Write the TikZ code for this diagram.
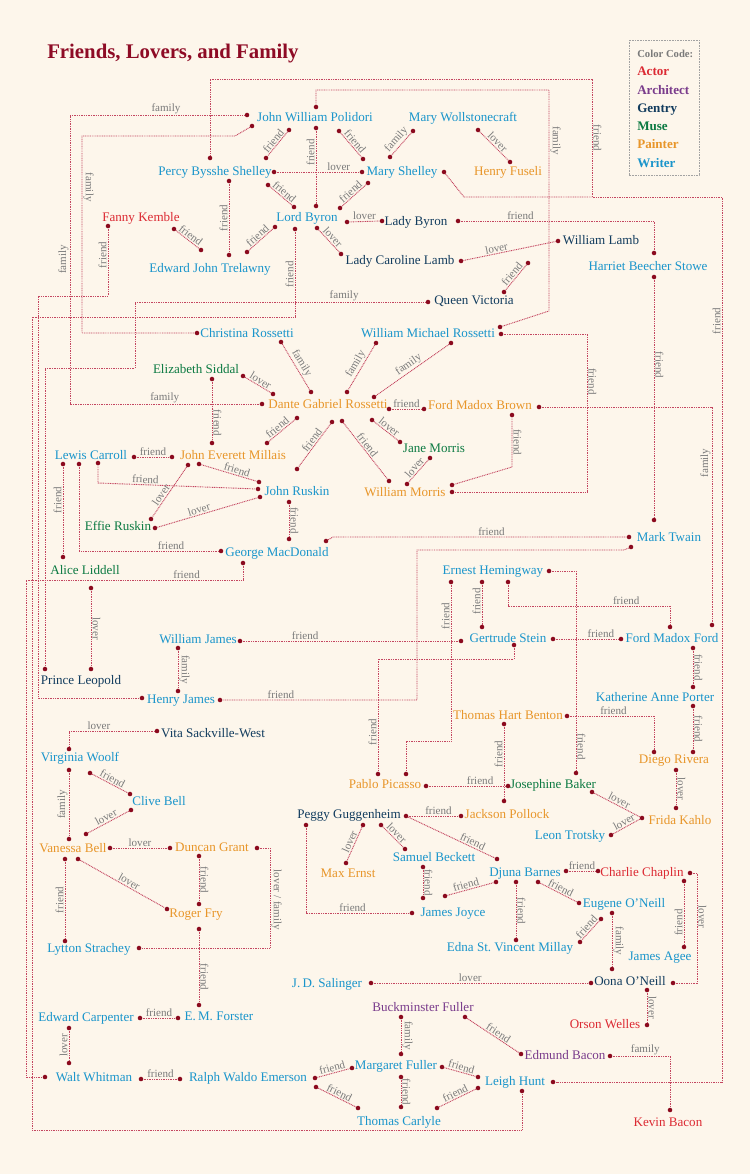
\documentclass[tikz,border=0pt]{standalone}
\usepackage{fontspec}
\setmainfont{Liberation Serif}

\definecolor{paper}{HTML}{FDF6EB}
\definecolor{titlered}{HTML}{8E0B25}
\definecolor{dotred}{HTML}{8B0A1E}
\definecolor{linkred}{HTML}{C44660}
\definecolor{lblgray}{HTML}{7A7A7A}
\definecolor{actorcol}{HTML}{DC2A33}
\definecolor{archcol}{HTML}{7A3C8C}
\definecolor{gentrycol}{HTML}{123C5E}
\definecolor{musecol}{HTML}{0C7A42}
\definecolor{paintercol}{HTML}{E8962A}
\definecolor{writercol}{HTML}{1A95CB}

\newcommand\namefont{\fontsize{9.8}{11}\selectfont}
\newcommand\lblfont{\fontsize{8.3}{9}\selectfont}
\newcommand\titlefont{\fontsize{15.6}{18}\selectfont\bfseries}

\tikzset{
	person/.style={anchor=base, inner sep=0pt, font=\namefont},
	actor/.style={person, text=actorcol},
	architect/.style={person, text=archcol},
	gentry/.style={person, text=gentrycol},
	muse/.style={person, text=musecol},
	painter/.style={person, text=paintercol},
	writer/.style={person, text=writercol},
	dot/.style={circle, fill=dotred, inner sep=0pt, minimum size=3.4pt},
	link/.style={draw=linkred, line width=0.7pt, dash pattern=on 0.7pt off 0.6pt},
	lbl/.style={font=\lblfont, text=lblgray, inner sep=0.8pt},
	hl/.style={lbl, above},
	sl/.style={lbl, sloped, above},
	vl/.style={lbl, rotate=90, above},
	vr/.style={lbl, rotate=-90, above},
	keytext/.style={anchor=base west, inner sep=0pt, font=\namefont\bfseries}
}

\begin{document}
\begin{tikzpicture}[x=0.75pt,y=-0.75pt]
	% Paper
	\useasboundingbox (0,0) rectangle (750,1174);
	\fill[paper] (0,0) rectangle (750,1174);
	
	% Title
	\node[anchor=base west, inner sep=0pt, font=\titlefont, text=titlered] (title) at (47,58) {Friends, Lovers, and Family};
	
	% Color code
	\draw[lblgray!70, line width=0.6pt, dash pattern=on 0.6pt off 0.6pt] (629,40) rectangle (699,175);
	\node[keytext, font=\fontsize{8}{9}\selectfont\bfseries, text=lblgray] (keyhead) at (637,57) {Color Code:};
	\node[keytext, text=actorcol] (keyactor) at (637,75) {Actor};
	\node[keytext, text=archcol] (keyarch) at (637,94) {Architect};
	\node[keytext, text=gentrycol] (keygentry) at (637,112) {Gentry};
	\node[keytext, text=musecol] (keymuse) at (637,130) {Muse};
	\node[keytext, text=paintercol] (keypainter) at (637,148) {Painter};
	\node[keytext, text=writercol] (keywriter) at (637,167) {Writer};
	
	% People
	\node[writer] (polidori) at (315,121) {John William Polidori};
	\node[writer] (wollstonecraft) at (463,121) {Mary Wollstonecraft};
	\node[writer] (pshelley) at (215,175) {Percy Bysshe Shelley};
	\node[writer] (mshelley) at (402,175) {Mary Shelley};
	\node[painter] (fuseli) at (508,175) {Henry Fuseli};
	\node[actor] (kemble) at (141,221) {Fanny Kemble};
	\node[writer] (byron) at (307,221) {Lord Byron};
	\node[gentry] (ladybyron) at (416,225) {Lady Byron};
	\node[writer] (trelawny) at (210,272) {Edward John Trelawny};
	\node[gentry] (carolinelamb) at (400,264) {Lady Caroline Lamb};
	\node[gentry] (williamlamb) at (601,244) {William Lamb};
	\node[writer] (stowe) at (648,270) {Harriet Beecher Stowe};
	\node[gentry] (victoria) at (474,304) {Queen Victoria};
	\node[writer] (christina) at (247,337) {Christina Rossetti};
	\node[writer] (wmrossetti) at (428,337) {William Michael Rossetti};
	\node[muse] (siddal) at (196,373) {Elizabeth Siddal};
	\node[painter] (dgrossetti) at (328,408) {Dante Gabriel Rossetti};
	\node[painter] (fmbrown) at (480,409) {Ford Madox Brown};
	\node[writer] (carroll) at (91,459) {Lewis Carroll};
	\node[painter] (millais) at (233,459) {John Everett Millais};
	\node[muse] (janemorris) at (434,452) {Jane Morris};
	\node[writer] (ruskin) at (297,495) {John Ruskin};
	\node[painter] (wmorris) at (405,496) {William Morris};
	\node[muse] (effie) at (118,530) {Effie Ruskin};
	\node[writer] (macdonald) at (277,556) {George MacDonald};
	\node[writer] (twain) at (669,541) {Mark Twain};
	\node[muse] (liddell) at (85,574) {Alice Liddell};
	\node[writer] (hemingway) at (493,574) {Ernest Hemingway};
	\node[writer] (wjames) at (198,643) {William James};
	\node[writer] (stein) at (508,642) {Gertrude Stein};
	\node[writer] (fmford) at (672,642) {Ford Madox Ford};
	\node[gentry] (leopold) at (81,684) {Prince Leopold};
	\node[writer] (hjames) at (181,703) {Henry James};
	\node[writer] (porter) at (655,701) {Katherine Anne Porter};
	\node[gentry] (vita) at (213,737) {Vita Sackville-West};
	\node[painter] (benton) at (508,719) {Thomas Hart Benton};
	\node[writer] (woolf) at (80,761) {Virginia Woolf};
	\node[painter] (rivera) at (674,763) {Diego Rivera};
	\node[painter] (picasso) at (385,788) {Pablo Picasso};
	\node[muse] (baker) at (553,788) {Josephine Baker};
	\node[writer] (clivebell) at (159,805) {Clive Bell};
	\node[gentry] (guggenheim) at (349,818) {Peggy Guggenheim};
	\node[painter] (pollock) at (507,818) {Jackson Pollock};
	\node[painter] (kahlo) at (680,824) {Frida Kahlo};
	\node[writer] (trotsky) at (570,839) {Leon Trotsky};
	\node[painter] (vbell) at (73,852) {Vanessa Bell};
	\node[painter] (dgrant) at (212,851) {Duncan Grant};
	\node[writer] (beckett) at (434,861) {Samuel Beckett};
	\node[painter] (ernst) at (348,877) {Max Ernst};
	\node[writer] (barnes) at (525,876) {Djuna Barnes};
	\node[actor] (chaplin) at (642,876) {Charlie Chaplin};
	\node[painter] (fry) at (196,917) {Roger Fry};
	\node[writer] (joyce) at (453,916) {James Joyce};
	\node[writer] (eoneill) at (624,907) {Eugene O'Neill};
	\node[writer] (strachey) at (89,952) {Lytton Strachey};
	\node[writer] (millay) at (510,951) {Edna St.\ Vincent Millay};
	\node[writer] (agee) at (660,960) {James Agee};
	\node[writer] (salinger) at (327,987) {J.\,D. Salinger};
	\node[gentry] (oona) at (630,985) {Oona O'Neill};
	\node[architect] (bfuller) at (423,1011) {Buckminster Fuller};
	\node[writer] (carpenter) at (86,1021) {Edward Carpenter};
	\node[writer] (forster) at (219,1020) {E.\,M. Forster};
	\node[actor] (welles) at (605,1028) {Orson Welles};
	\node[architect] (ebacon) at (565,1059) {Edmund Bacon};
	\node[writer] (whitman) at (94,1081) {Walt Whitman};
	\node[writer] (emerson) at (248,1081) {Ralph Waldo Emerson};
	\node[writer] (mfuller) at (396,1069) {Margaret Fuller};
	\node[writer] (hunt) at (515,1085) {Leigh Hunt};
	\node[writer] (carlyle) at (399,1125) {Thomas Carlyle};
	\node[actor] (kbacon) at (668,1126) {Kevin Bacon};
	
	% Dots
	\foreach \n/\x/\y in {pol1/247/115, pol2/252/126, pol3/289/130, pol4/316/128, pol5/316/107, pol6/339/131,
		psh1/266/158, psh2/274/172, psh3/268/185, psh4/229/181, psh5/210/158,
		msh1/363/159, msh2/362/172, msh3/368/183, msh4/444/172, msh5/390/157,
		byr1/316/206, byr2/294/207, byr3/340/208, byr4/275/227, byr5/317/228, byr6/295/229, byr7/347/222,
		tre1/229/255, tre2/201/250, tre3/247/252, kem1/174/229, kem2/108/226,
		cla1/341/254, cla2/461/261, lby1/382/221, lby2/458/221,
		hun1/522/1091, hun2/553/1082, hun3/478/1077, hun4/478/1088,
		hja1/142/698, hja2/220/700, hja3/178/691,
		wol1/413/131, wol2/478/130, fus1/510/162, sto1/654/253, sto2/654/277,
		wla1/558/241, wla2/528/263, vic1/504/292, vic2/428/302,
		twa1/654/520, twa2/629/537, twa3/631/547, leo1/45/669, leo2/91/669,
		dgr1/262/404, dgr2/273/394, dgr3/311/392, dgr4/347/392, dgr5/374/397,
		dgr6/389/409, dgr7/297/418, dgr8/332/422, dgr9/342/421, dgr10/372/420,
		cro1/197/333, cro2/281/342, wmr1/500/327, wmr2/376/343, wmr3/451/343, wmr4/501/334,
		sid1/243/376, sid2/212/379,
		mil1/212/443, mil2/267/443, mil3/172/457, mil4/199/464, mil5/188/465,
		fmb1/424/409, fmb2/512/415, fmb3/539/407,
		rus1/297/469, rus2/258/489, rus3/259/482, rus4/260/497, rus5/289/502,
		wmo1/389/481, wmo2/407/484, wmo3/452/485, wmo4/452/492, jmo1/400/442, jmo2/430/458,
		fmf1/712/625, fmf2/670/627, fmf3/621/639, fmf4/693/648,
		car1/134/457, car2/98/463, car3/63/464, car4/79/464, eff1/151/519, eff2/155/528,
		mac1/289/539, mac2/221/551, mac3/326/541, mac4/243/563, lid1/63/557, lid2/91/588,
		whi1/45/1077, whi2/141/1079, whi3/69/1063,
		hem1/451/582, hem2/482/582, hem3/508/582, hem4/549/571,
		pic1/406/774, pic2/378/774, pic3/426/786,
		ste1/482/627, ste2/461/641, ste3/514/645, ste4/553/639,
		bak1/576/773, bak2/508/786, bak3/592/792, wja1/240/641, wja2/178/648,
		por1/693/687, por2/693/706, riv1/693/752, riv2/654/752, riv3/676/770,
		ben1/567/716, ben2/504/724, jpo1/504/801, jpo2/461/816,
		kah1/642/818, kah2/676/808, tro1/611/835,
		gug1/406/816, gug2/381/825, gug3/363/825, gug4/306/825,
		bar1/497/859, bar2/496/882, bar3/566/871, bar4/516/882, bar5/538/882,
		bec1/405/849, bec2/423/867, ern1/346/863, joy1/412/913, joy2/423/898, joy3/445/896,
		cha1/598/871, cha2/684/881, cha3/690/873, mla1/516/940, mla2/580/942,
		one1/579/903, one2/601/919, one3/612/913,
		oon1/612/969, oon2/673/983, oon3/591/983, oon4/647/990,
		age1/684/947, sal1/371/983, wel1/647/1025,
		bfu1/401/1017, bfu2/465/1017, mfu1/401/1054, mfu2/442/1067, mfu3/401/1077, mfu4/352/1068,
		eba1/521/1054, eba2/610/1056, kba1/670/1110,
		cly1/437/1108, cly2/401/1107, cly3/358/1108,
		eme1/315/1078, eme2/316/1087, eme3/180/1079,
		cpt1/69/1028, cpt2/140/1018, fst1/178/1018, fst2/199/1005,
		fry1/199/929, fry2/199/904, fry3/167/909, gra1/199/856, gra2/257/848, gra3/170/848,
		vbe1/78/859, vbe2/65/859, vbe3/110/848, vbe4/69/839, vbe5/86/834,
		str1/65/941, str2/139/948, woo1/69/770, woo2/90/773, woo3/69/749,
		cli1/130/794, cli2/131/810, vit1/157/731}
		\node[dot] (\n) at (\x,\y) {};
	
	% Polidori
	\draw[link] (pol1) -- node[hl, pos=.45] {family} (70,115) -- node[vl] {family} (70,404) -- node[hl] {family} (dgr1);
	\draw[link] (pol2) -- (235,136) -- (82,136) -- node[vr, pos=.26] {family} (82,333) -- (cro1);
	\draw[link] (pol3) -- node[sl] {friend} (psh1);
	\draw[link] (pol4) -- node[vl, pos=.3] {friend} (byr1);
	\draw[link] (pol5) -- (316,90) -- (549,90) -- node[vr, pos=.23] {family} (549,311) -- (wmr1);
	\draw[link] (pol6) -- node[sl] {friend} (msh1);
	
	% Shelleys
	\draw[link] (psh2) -- node[hl, pos=.75] {lover} (msh2);
	\draw[link] (psh3) -- node[sl] {friend} (byr2);
	\draw[link] (msh3) -- node[sl] {friend} (byr3);
	\draw[link] (psh4) -- node[vl] {friend} (tre1);
	\coordinate (huntjoin) at (592,197);
	\draw[link] (psh5) -- (210,79) -- (592,79) -- node[vr] {friend} (huntjoin) -- (722,197) -- node[vl, pos=.14] {friend} (722,1082) -- (hun2);
	\draw[link] (msh4) -- (464,197) -- (huntjoin);
	\draw[link] (wol1) -- node[sl] {family} (msh5);
	\draw[link] (wol2) -- node[sl] {lover} (fus1);
	
	% Byron
	\draw[link] (kem1) -- node[sl] {friend} (tre2);
	\draw[link] (tre3) -- node[sl] {friend} (byr4);
	\draw[link] (byr5) -- node[sl] {lover} (cla1);
	\draw[link] (byr6) -- node[vl] {friend} (295,317) -- (32,317) -- (32,1130) -- (522,1130) -- (hun1);
	\draw[link] (byr7) -- node[hl] {lover} (lby1);
	\draw[link] (kem2) -- node[vl, pos=.39] {friend} (108,296) -- (38,296) -- (38,698) -- (hja1);
	\draw[link] (lby2) -- node[hl, pos=.31] {friend} (654,221) -- (sto1);
	\draw[link] (cla2) -- node[sl, pos=.37] {lover} (wla1);
	\draw[link] (wla2) -- node[sl] {friend} (vic1);
	\draw[link] (sto2) -- node[vr, pos=.36] {friend} (twa1);
	\draw[link] (vic2) -- node[hl, pos=.28] {family} (135,302) -- (135,368) -- (45,368) -- (leo1);
	
	% Rossettis
	\draw[link] (sid1) -- node[sl] {lover} (dgr2);
	\draw[link] (sid2) -- node[vr, pos=.7] {friend} (mil1);
	\draw[link] (cro2) -- node[sl] {family} (dgr3);
	\draw[link] (wmr2) -- node[sl] {family} (dgr4);
	\draw[link] (wmr3) -- node[sl] {family} (dgr5);
	\draw[link] (dgr6) -- node[hl] {friend} (fmb1);
	\draw[link] (dgr7) -- node[sl, pos=.55] {friend} (mil2);
	\draw[link] (dgr8) -- node[sl, pos=.45] {friend} (rus1);
	\draw[link] (dgr9) -- node[sl, pos=.45] {friend} (wmo1);
	\draw[link] (dgr10) -- node[sl] {lover} (jmo1);
	\draw[link] (jmo2) -- node[sl] {lover} (wmo2);
	\draw[link] (fmb2) -- node[vr] {friend} (512,467) -- (wmo3);
	\draw[link] (wmr4) -- (587,334) -- node[vr, pos=.3] {friend} (587,492) -- (wmo4);
	\draw[link] (fmb3) -- (712,407) -- node[vl, pos=.26] {family} (fmf1);
	
	% Ruskin and Carroll
	\draw[link] (car1) -- node[hl] {friend} (mil3);
	\draw[link] (car2) -- (98,483) -- node[sl, pos=.3] {friend} (rus2);
	\draw[link] (mil4) -- node[sl, pos=.62] {friend} (rus3);
	\draw[link] (mil5) -- node[sl, pos=.62] {lover} (eff1);
	\draw[link] (eff2) -- node[sl, pos=.43] {lover} (rus4);
	\draw[link] (rus5) -- node[vr] {friend} (mac1);
	\draw[link] (car3) -- node[vl, pos=.38] {friend} (lid1);
	\draw[link] (car4) -- (79,551) -- node[hl, pos=.66] {friend} (mac2);
	\draw[link] (mac3) -- (333,537) -- node[hl, pos=.54] {friend} (twa2);
	\draw[link] (mac4) -- (243,580) -- node[hl, pos=.26] {friend} (26,580) -- (26,1077) -- (whi1);
	\draw[link] (lid2) -- node[vr] {lover} (leo2);
	
	% Americans and Paris
	\draw[link] (twa3) -- (624,550) -- (417,550) -- (417,700) -- node[hl, pos=.7] {friend} (hja2);
	\draw[link] (hem1) -- node[vl, pos=.2] {friend} (451,741) -- (406,741) -- (pic1);
	\draw[link] (hem2) -- node[vl, pos=.42] {friend} (ste1);
	\draw[link] (hem3) -- (508,606) -- node[hl, pos=.73] {friend} (670,606) -- (fmf2);
	\draw[link] (hem4) -- (576,571) -- node[vr, pos=.88] {friend} (bak1);
	\draw[link] (wja1) -- node[hl, pos=.29] {friend} (ste2);
	\draw[link] (wja2) -- node[vr] {family} (hja3);
	\draw[link] (ste3) -- (514,659) -- (378,659) -- node[vl, pos=.65] {friend} (pic2);
	\draw[link] (ste4) -- node[hl, pos=.72] {friend} (fmf3);
	\draw[link] (fmf4) -- node[vr] {friend} (por1);
	\draw[link] (por2) -- node[vr] {friend} (riv1);
	\draw[link] (ben1) -- node[hl, pos=.52] {friend} (654,716) -- (riv2);
	\draw[link] (ben2) -- node[vl, pos=.38] {friend} (jpo1);
	\draw[link] (pic3) -- node[hl, pos=.67] {friend} (bak2);
	\draw[link] (bak3) -- node[sl] {lover} (kah1);
	\draw[link] (tro1) -- node[sl] {lover} (kah1);
	\draw[link] (riv3) -- node[vr] {lover} (kah2);
	
	% Guggenheim and O'Neill
	\draw[link] (gug1) -- node[hl, pos=.6] {friend} (jpo2);
	\draw[link] (gug1) -- node[sl, pos=.72] {friend} (bar1);
	\draw[link] (gug2) -- node[sl] {lover} (bec1);
	\draw[link] (gug3) -- node[sl] {lover} (ern1);
	\draw[link] (gug4) -- (306,913) -- node[hl, pos=.45] {friend} (joy1);
	\draw[link] (bec2) -- node[vr] {friend} (joy2);
	\draw[link] (joy3) -- node[sl, pos=.43] {friend} (bar2);
	\draw[link] (bar3) -- node[hl] {friend} (cha1);
	\draw[link] (bar4) -- node[vr] {friend} (mla1);
	\draw[link] (bar5) -- node[sl] {friend} (one1);
	\draw[link] (one2) -- node[sl] {friend} (mla2);
	\draw[link] (one3) -- node[vr] {family} (oon1);
	\draw[link] (cha2) -- node[vl, pos=.64] {friend} (age1);
	\draw[link] (cha3) -- (697,873) -- node[vr, pos=.4] {lover} (697,983) -- (oon2);
	\draw[link] (sal1) -- node[hl, pos=.45] {lover} (oon3);
	\draw[link] (oon4) -- node[vr] {lover} (wel1);
	
	% Fullers and Bacons
	\draw[link] (bfu1) -- node[vr] {family} (mfu1);
	\draw[link] (bfu2) -- node[sl, pos=.55] {friend} (eba1);
	\draw[link] (eba2) -- node[hl, pos=.57] {family} (670,1056) -- (kba1);
	\draw[link] (mfu2) -- node[sl] {friend} (hun3);
	\draw[link] (cly1) -- node[sl] {friend} (hun4);
	\draw[link] (mfu3) -- node[vr] {friend} (cly2);
	\draw[link] (eme1) -- node[sl] {friend} (mfu4);
	\draw[link] (eme2) -- node[sl] {friend} (cly3);
	\draw[link] (whi2) -- node[hl] {friend} (eme3);
	\draw[link] (cpt1) -- node[vl] {lover} (whi3);
	\draw[link] (cpt2) -- node[hl] {friend} (fst1);
	
	% Bloomsbury
	\draw[link] (fry1) -- node[vr, pos=.64] {friend} (fst2);
	\draw[link] (gra1) -- node[vr] {friend} (fry2);
	\draw[link] (vbe1) -- node[sl, pos=.55] {lover} (fry3);
	\draw[link] (vbe2) -- node[vl] {friend} (str1);
	\draw[link] (gra2) -- (270,848) -- node[vr, pos=.52] {lover / family} (270,948) -- (str2);
	\draw[link] (vbe3) -- node[hl] {lover} (gra3);
	\draw[link] (woo1) -- node[vl] {family} (vbe4);
	\draw[link] (woo2) -- node[sl] {friend} (cli1);
	\draw[link] (cli2) -- node[sl] {lover} (vbe5);
	\draw[link] (woo3) -- (69,731) -- node[hl, pos=.35] {lover} (vit1);
	
\end{tikzpicture}
\end{document}
